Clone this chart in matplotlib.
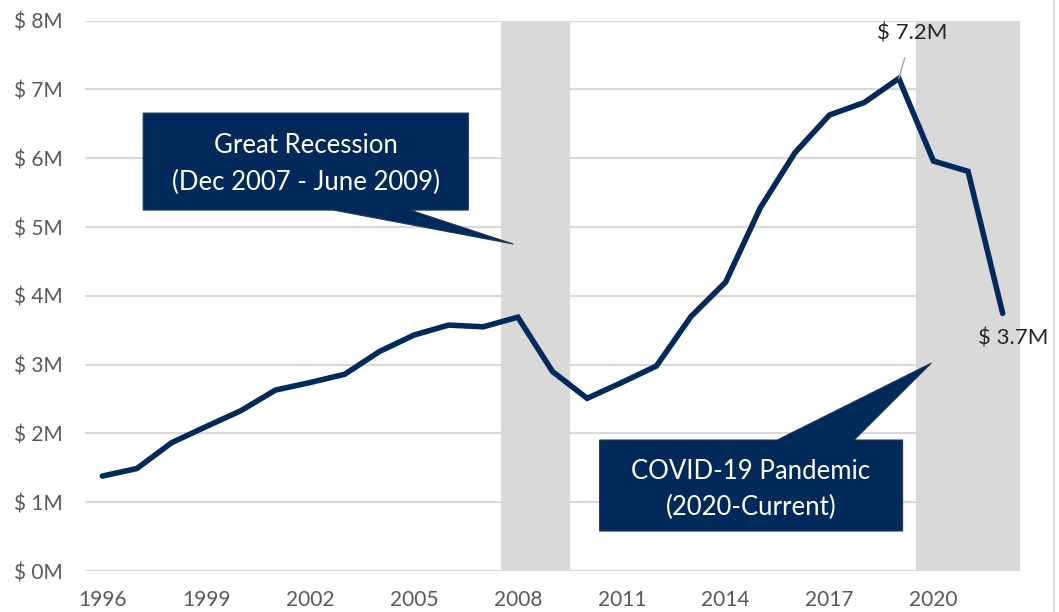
import matplotlib
matplotlib.use('Agg')
import matplotlib.pyplot as plt
from matplotlib.patches import Polygon
from matplotlib.lines import Line2D

years = list(range(1996, 2023))
values = [1.38, 1.49, 1.865, 2.10, 2.33, 2.63, 2.74, 2.86, 3.19, 3.43,
          3.575, 3.55, 3.69, 2.90, 2.51, 2.74, 2.98, 3.70, 4.20, 5.28,
          6.08, 6.63, 6.81, 7.16, 5.96, 5.81, 3.745]
yticks = [0, 1, 2, 3, 4, 5, 6, 7, 8]
xticks = [1996, 1999, 2002, 2005, 2008, 2011, 2014, 2017, 2020]
recession = (2007.5, 2009.5)
covid = (2019.5, 2022.5)

navy = '#012a5a'
grid_gray = '#d9d9d9'
tick_gray = '#595959'
font = ['Lato', 'DejaVu Sans']
plt.rcParams['font.family'] = font

fig = plt.figure(figsize=(10.59, 6.12), dpi=100)
ax = fig.add_axes([85 / 1059, 1 - 571 / 612, (1020 - 85) / 1059, (571 - 20.7) / 612])

for y in yticks:
    ax.axhline(y, color=grid_gray, lw=1.6, zorder=1)
ax.axvspan(*recession, color=grid_gray, lw=0, zorder=2)
ax.axvspan(*covid, color=grid_gray, lw=0, zorder=2)

ax.plot(years, values, color=navy, lw=4, solid_joinstyle='miter',
        solid_capstyle='round', zorder=3)

ax.set_xlim(1995.5, 2022.5)
ax.set_ylim(0, 8)
ax.set_yticks(yticks)
ax.set_yticklabels([f'$ {v}M' for v in yticks])
ax.set_xticks(xticks)
ax.set_xticklabels([str(x) for x in xticks])
ax.tick_params(length=0, labelsize=15, labelcolor=tick_gray)
ax.tick_params(axis='y', pad=16)
ax.tick_params(axis='x', pad=14)
for s in ax.spines.values():
    s.set_visible(False)

# value labels
i_peak = values.index(max(values))
ax.annotate(f'$ {values[i_peak]:.1f}M', xy=(years[i_peak], values[i_peak]),
            xytext=(years[i_peak] + 0.38, values[i_peak] + 0.66),
            ha='center', va='center', fontsize=16, color='#262626',
            arrowprops=dict(arrowstyle='-', color='#a6a6a6', lw=1,
                            shrinkA=9, shrinkB=0), zorder=5)
ax.text(years[-1] + 0.3, values[-1] - 0.37, f'$ {values[-1]:.1f}M',
        ha='center', va='center', fontsize=16, color='#262626', zorder=5)

# callouts
rec_box = [(1997.18, 6.657), (2006.57, 6.657), (2006.57, 5.247),
           (2004.89, 5.247), (2007.87, 4.753), (2002.67, 5.247),
           (1997.18, 5.247)]
ax.add_patch(Polygon(rec_box, closed=True, facecolor=navy,
                     edgecolor='#1f3a5c', lw=0.8, zorder=4))
ax.text(2001.88, 5.92, 'Great Recession\n(Dec 2007 - June 2009)',
        ha='center', va='center', color='white', fontsize=18.5,
        linespacing=1.6, zorder=5)

cov_box = [(2010.36, 1.904), (2015.49, 1.904), (2019.94, 3.023),
           (2017.71, 1.904), (2019.11, 1.904), (2019.11, 0.581),
           (2010.36, 0.581)]
ax.add_patch(Polygon(cov_box, closed=True, facecolor=navy,
                     edgecolor='#1f3a5c', lw=0.8, zorder=4))
ax.text(2014.73, 1.19, 'COVID-19 Pandemic\n(2020-Current)',
        ha='center', va='center', color='white', fontsize=18.5,
        linespacing=1.55, zorder=5)

fig.add_artist(Line2D([1054 / 1059, 1054 / 1059], [0, 1], color=grid_gray, lw=1.2))

fig.savefig('out.png', dpi=100)
